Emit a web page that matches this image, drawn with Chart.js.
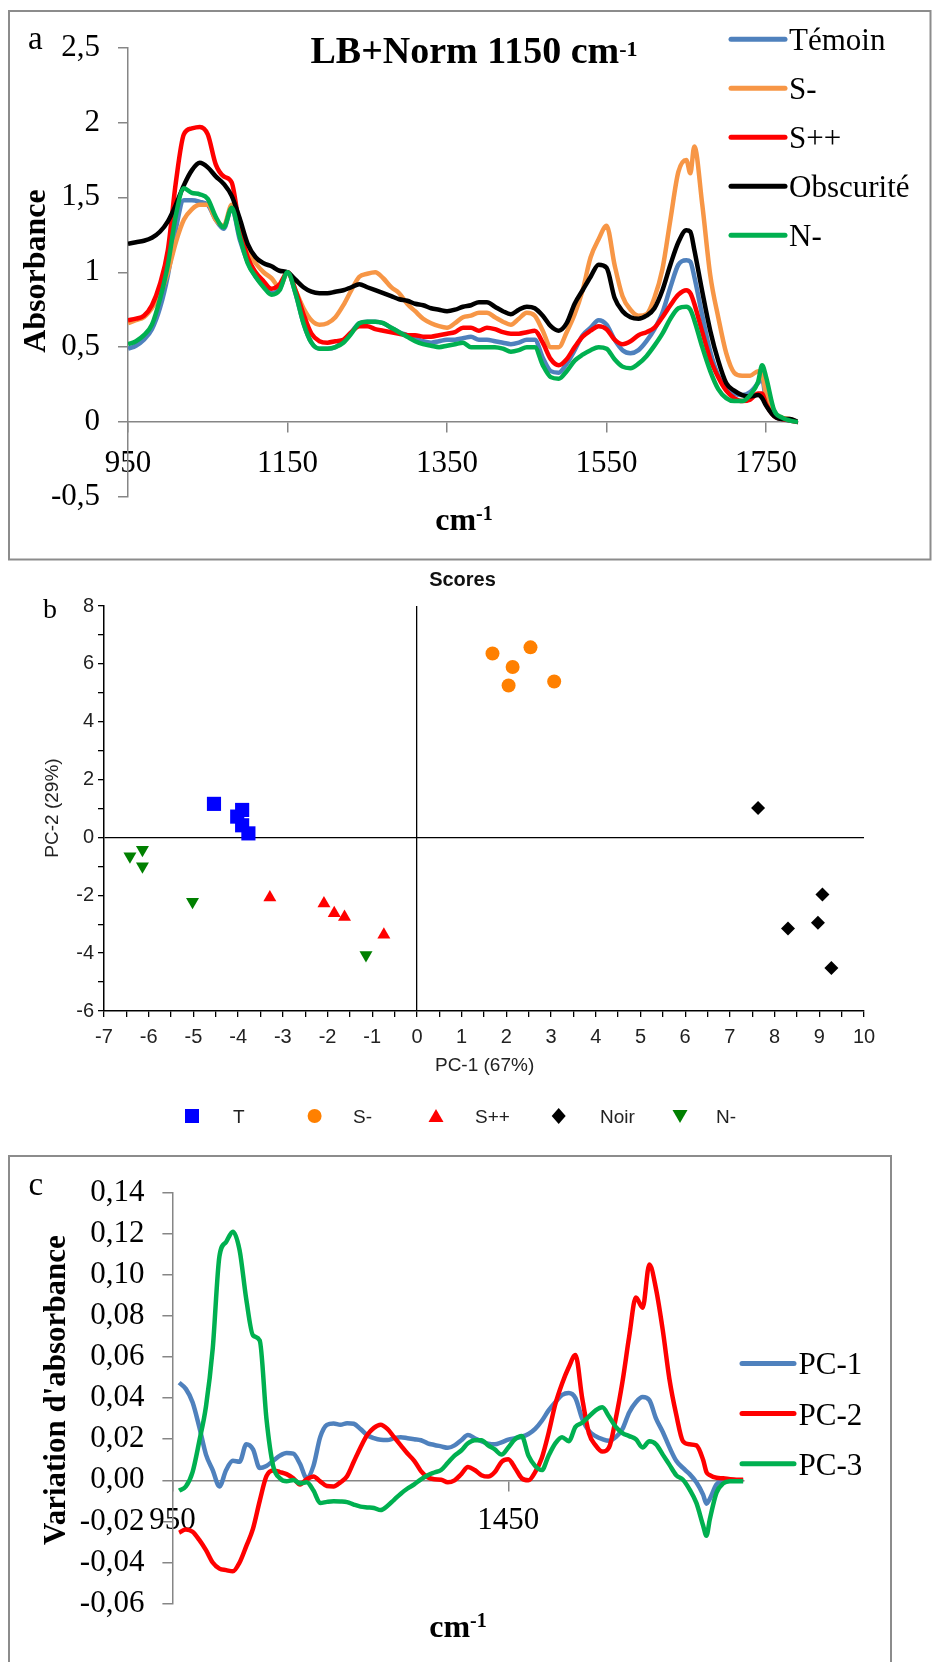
<!DOCTYPE html>
<html>
<head>
<meta charset="utf-8">
<script src="https://cdn.jsdelivr.net/npm/chart.js"></script>
<style>
  body { margin: 0; background: #fff; }
  #page { position: relative; width: 932px; height: 1662px; overflow: hidden; background: #fff; }
  .wrap { position: absolute; left: 0; }
  #overlay { position: absolute; left: 0; top: 0; pointer-events: none; }
  .serif { font-family: 'Liberation Serif', 'Times New Roman', serif; }
  .sans { font-family: 'Liberation Sans', Arial, sans-serif; }
</style>
</head>
<body>
<div id="page">
  <div class="wrap" style="top:0;width:932px;height:560px"><canvas id="chartA" width="932" height="560"></canvas></div>
  <div class="wrap" style="top:590px;width:932px;height:470px"><canvas id="chartB" width="932" height="470"></canvas></div>
  <div class="wrap" style="top:1156px;width:932px;height:506px"><canvas id="chartC" width="932" height="506"></canvas></div>

  <svg id="overlay" width="932" height="1662">
    <!-- panel a -->
    <rect x="9" y="11" width="921.5" height="548.5" fill="none" stroke="#8c8c8c" stroke-width="2"/>
    <text class="serif" x="28" y="48.5" font-size="33">a</text>
    <text class="serif" x="474" y="63" font-size="38" font-weight="bold" text-anchor="middle">LB+Norm 1150 cm<tspan font-size="22" dy="-7">-1</tspan></text>
    <text class="serif" transform="translate(45,271) rotate(-90)" font-size="32" font-weight="bold" text-anchor="middle">Absorbance</text>
    <text class="serif" x="464" y="530" font-size="32" font-weight="bold" text-anchor="middle">cm<tspan font-size="20" dy="-10">-1</tspan></text>
    <g id="legendA"></g>

    <!-- panel b -->
    <text class="serif" x="43" y="618" font-size="28">b</text>
    <text class="sans" x="462.5" y="586" font-size="20" font-weight="bold" text-anchor="middle" fill="#111">Scores</text>
    <text class="sans" x="484.6" y="1071" font-size="19" text-anchor="middle" fill="#222">PC-1 (67%)</text>
    <text class="sans" transform="translate(58,808) rotate(-90)" font-size="19" text-anchor="middle" fill="#222">PC-2 (29%)</text>
    <g id="legendB"></g>

    <!-- panel c -->
    <rect x="9" y="1156" width="882" height="600" fill="none" stroke="#8c8c8c" stroke-width="2"/>
    <text class="serif" x="28.5" y="1195" font-size="33">c</text>
    <text class="serif" transform="translate(65,1390) rotate(-90)" font-size="31" font-weight="bold" text-anchor="middle">Variation d'absorbance</text>
    <text class="serif" x="458" y="1637" font-size="32" font-weight="bold" text-anchor="middle">cm<tspan font-size="20" dy="-10">-1</tspan></text>
    <g id="legendC"></g>
  </svg>
</div>

<script>
// ---- panel a : spectra (LB + normalisation at 1150 cm-1) ----
const wavenumbersA = [
  950, 960, 970, 980, 990, 1000, 1010, 1020, 1030, 1040,
  1050, 1060, 1070, 1080, 1090, 1100, 1110, 1120, 1130, 1140,
  1150, 1160, 1170, 1180, 1190, 1200, 1210, 1220, 1230, 1240,
  1250, 1260, 1270, 1280, 1290, 1300, 1310, 1320, 1330, 1340,
  1350, 1360, 1370, 1380, 1390, 1400, 1410, 1420, 1430, 1440,
  1450, 1460, 1470, 1480, 1490, 1500, 1510, 1520, 1530, 1540,
  1550, 1560, 1570, 1580, 1590, 1600, 1610, 1620, 1630, 1640,
  1650, 1655, 1660, 1670, 1680, 1690, 1700, 1710, 1720, 1730,
  1740, 1745, 1750, 1760, 1770, 1780, 1790
];
const temoin = [
  0.49, 0.51, 0.55, 0.62, 0.76, 0.98, 1.29, 1.48, 1.48, 1.47,
  1.45, 1.35, 1.29, 1.43, 1.22, 1.07, 0.97, 0.91, 0.86, 0.89,
  1.00, 0.86, 0.66, 0.53, 0.49, 0.49, 0.50, 0.54, 0.60, 0.66,
  0.67, 0.67, 0.66, 0.63, 0.60, 0.58, 0.56, 0.54, 0.53, 0.54,
  0.55, 0.55, 0.56, 0.57, 0.55, 0.55, 0.54, 0.53, 0.52, 0.53,
  0.55, 0.55, 0.43, 0.34, 0.33, 0.39, 0.48, 0.58, 0.63, 0.68,
  0.65, 0.55, 0.48, 0.46, 0.48, 0.54, 0.62, 0.73, 0.90, 1.05,
  1.08, 1.07, 0.97, 0.71, 0.47, 0.31, 0.22, 0.19, 0.18, 0.20,
  0.26, 0.29, 0.14, 0.05, 0.02, 0.01, 0.00
];
const sMinus = [
  0.66, 0.68, 0.70, 0.76, 0.85, 1.00, 1.20, 1.35, 1.42, 1.45,
  1.45, 1.35, 1.31, 1.45, 1.34, 1.14, 1.06, 1.00, 0.96, 0.90,
  1.00, 0.88, 0.76, 0.68, 0.65, 0.66, 0.70, 0.78, 0.88, 0.97,
  0.99, 1.00, 0.96, 0.90, 0.86, 0.79, 0.74, 0.69, 0.66, 0.64,
  0.63, 0.66, 0.70, 0.71, 0.73, 0.73, 0.70, 0.67, 0.65, 0.69,
  0.73, 0.71, 0.61, 0.50, 0.50, 0.60, 0.72, 0.88, 1.10, 1.22,
  1.31, 1.05, 0.84, 0.75, 0.71, 0.72, 0.83, 1.02, 1.35, 1.67,
  1.75, 1.66, 1.84, 1.45, 0.98, 0.70, 0.46, 0.33, 0.31, 0.31,
  0.34, 0.32, 0.18, 0.06, 0.03, 0.02, 0.00
];
const sPlusPlus = [
  0.68, 0.69, 0.71, 0.78, 0.92, 1.15, 1.60, 1.92, 1.96, 1.97,
  1.92, 1.72, 1.64, 1.60, 1.30, 1.10, 1.00, 0.94, 0.89, 0.92,
  1.00, 0.88, 0.72, 0.59, 0.54, 0.53, 0.54, 0.55, 0.60, 0.64,
  0.64, 0.62, 0.61, 0.60, 0.59, 0.58, 0.58, 0.57, 0.57, 0.58,
  0.59, 0.60, 0.63, 0.63, 0.61, 0.63, 0.62, 0.60, 0.59, 0.59,
  0.60, 0.61, 0.53, 0.42, 0.38, 0.42, 0.50, 0.57, 0.61, 0.64,
  0.62, 0.55, 0.52, 0.54, 0.58, 0.60, 0.63, 0.70, 0.78, 0.85,
  0.88, 0.86, 0.79, 0.60, 0.42, 0.30, 0.21, 0.16, 0.14, 0.15,
  0.19, 0.19, 0.12, 0.04, 0.02, 0.01, 0.00
];
const obscurite = [
  1.19, 1.20, 1.21, 1.23, 1.27, 1.34, 1.45, 1.58, 1.68, 1.73,
  1.70, 1.64, 1.59, 1.51, 1.36, 1.19, 1.10, 1.06, 1.04, 1.01,
  1.00, 0.95, 0.90, 0.87, 0.86, 0.86, 0.87, 0.88, 0.90, 0.92,
  0.90, 0.88, 0.86, 0.84, 0.82, 0.81, 0.79, 0.78, 0.76, 0.75,
  0.74, 0.75, 0.77, 0.78, 0.80, 0.80, 0.77, 0.74, 0.72, 0.75,
  0.77, 0.76, 0.71, 0.64, 0.61, 0.66, 0.79, 0.88, 0.97, 1.05,
  1.03, 0.83, 0.74, 0.70, 0.69, 0.71, 0.76, 0.88, 1.05, 1.20,
  1.28, 1.27, 1.15, 0.87, 0.61, 0.41, 0.26, 0.21, 0.18, 0.17,
  0.18, 0.16, 0.11, 0.04, 0.02, 0.02, 0.00
];
const nMinus = [
  0.52, 0.54, 0.58, 0.65, 0.82, 1.05, 1.38, 1.56, 1.53, 1.52,
  1.49, 1.37, 1.30, 1.43, 1.24, 1.06, 0.97, 0.90, 0.85, 0.88,
  1.00, 0.86, 0.66, 0.53, 0.49, 0.49, 0.50, 0.53, 0.59, 0.66,
  0.67, 0.67, 0.66, 0.63, 0.60, 0.57, 0.54, 0.52, 0.51, 0.50,
  0.51, 0.52, 0.53, 0.50, 0.50, 0.50, 0.50, 0.49, 0.47, 0.48,
  0.50, 0.50, 0.38, 0.30, 0.29, 0.34, 0.41, 0.45, 0.48, 0.50,
  0.49, 0.42, 0.37, 0.36, 0.39, 0.44, 0.51, 0.59, 0.69, 0.76,
  0.77, 0.75, 0.68, 0.50, 0.34, 0.22, 0.16, 0.14, 0.14, 0.18,
  0.27, 0.38, 0.30, 0.08, 0.03, 0.01, 0.00
];
const xTicksA = [950, 1150, 1350, 1550, 1750];

// ---- panel b : PCA scores ----
const scoresT_pc1 = [-4.54, -3.91, -4.02, -3.91, -3.77];
const scoresT_pc2 = [1.16, 0.95, 0.72, 0.42, 0.14];
const scoresSm_pc1 = [1.69, 2.54, 2.14, 2.05, 3.07];
const scoresSm_pc2 = [6.36, 6.57, 5.89, 5.25, 5.39];
const scoresSpp_pc1 = [-3.29, -2.08, -1.85, -1.62, -0.74];
const scoresSpp_pc2 = [-2.08, -2.28, -2.62, -2.75, -3.36];
const scoresNoir_pc1 = [7.63, 9.07, 8.30, 8.97, 9.27];
const scoresNoir_pc2 = [1.02, -1.97, -3.15, -2.95, -4.51];
const scoresNm_pc1 = [-6.42, -6.14, -6.14, -5.02, -1.14];
const scoresNm_pc2 = [-0.65, -0.43, -1.00, -2.22, -4.06];

// ---- panel c : loadings ----
const wavenumbersC = [
  960, 970, 980, 990, 1000, 1010, 1020, 1030, 1040, 1050,
  1060, 1070, 1080, 1090, 1100, 1110, 1120, 1130, 1140, 1150,
  1160, 1170, 1180, 1190, 1200, 1210, 1220, 1230, 1240, 1250,
  1260, 1270, 1280, 1290, 1300, 1310, 1320, 1330, 1340, 1350,
  1360, 1370, 1380, 1390, 1400, 1410, 1420, 1430, 1440, 1450,
  1460, 1470, 1480, 1490, 1500, 1510, 1520, 1530, 1540, 1550,
  1560, 1570, 1580, 1590, 1600, 1610, 1620, 1630, 1640, 1650,
  1660, 1670, 1680, 1690, 1700, 1710, 1720, 1730, 1740,
  1745, 1750, 1760, 1770, 1780, 1790, 1800
];
const pc1 = [
  0.0475, 0.0445, 0.038, 0.026, 0.0125, 0.005, -0.003, 0.005, 0.0095, 0.009,
  0.0175, 0.015, 0.006, 0.007, 0.0095, 0.012, 0.0133, 0.013, 0.008, 0.001,
  0.007, 0.021, 0.027, 0.0277, 0.027, 0.0278, 0.0275, 0.025, 0.022, 0.0205,
  0.0197, 0.0196, 0.0205, 0.021, 0.0205, 0.020, 0.0195, 0.018, 0.0172, 0.0165,
  0.0158, 0.017, 0.0195, 0.022, 0.0205, 0.019, 0.0178, 0.0175, 0.0185, 0.0198,
  0.0205, 0.0212, 0.0225, 0.025, 0.029, 0.034, 0.038, 0.0415, 0.0425, 0.040,
  0.030, 0.024, 0.0215, 0.020, 0.0192, 0.021, 0.025, 0.033, 0.038, 0.0405,
  0.039, 0.030, 0.0235, 0.016, 0.0095, 0.006, 0.003, -0.001, -0.007,
  -0.0114, -0.009, -0.002, 0.0, 0.0003, 0.0, 0.0
];
const pc2 = [
  -0.0255, -0.024, -0.025, -0.029, -0.034, -0.040, -0.043, -0.0437, -0.0443, -0.040,
  -0.032, -0.0235, -0.010, 0.002, 0.0048, 0.004, 0.003, 0.001, -0.002, 0.0005,
  0.0019, -0.0005, -0.0028, -0.003, -0.001, 0.002, 0.009, 0.016, 0.022, 0.0255,
  0.027, 0.025, 0.021, 0.017, 0.013, 0.0095, 0.0045, 0.0015, 0.0005, 0.0003,
  -0.001, 0.0, 0.003, 0.0065, 0.005, 0.0025, 0.0018, 0.004, 0.009, 0.0102,
  0.006, 0.001, 0.0, 0.004, 0.011, 0.023, 0.037, 0.047, 0.055, 0.061,
  0.040, 0.023, 0.017, 0.014, 0.016, 0.030, 0.048, 0.070, 0.089, 0.084,
  0.105, 0.093, 0.073, 0.049, 0.032, 0.019, 0.0175, 0.017, 0.010,
  0.004, 0.0025, 0.0012, 0.001, 0.0005, 0.0003, 0.0003
];
const pc3 = [
  -0.005, -0.003, 0.004, 0.019, 0.036, 0.064, 0.109, 0.116, 0.121, 0.112,
  0.088, 0.0705, 0.068, 0.030, 0.007, 0.001, -0.0005, 0.0002, -0.0015, -0.001,
  -0.005, -0.011, -0.0105, -0.0102, -0.0103, -0.0106, -0.0118, -0.0128, -0.0132, -0.0135,
  -0.0145, -0.0125, -0.0095, -0.0065, -0.004, -0.002, 0.0005, 0.0025, 0.0038, 0.005,
  0.0085, 0.012, 0.0145, 0.018, 0.0195, 0.0195, 0.017, 0.015, 0.0125, 0.016,
  0.020, 0.0215, 0.012, 0.007, 0.005, 0.012, 0.018, 0.021, 0.019, 0.026,
  0.028, 0.031, 0.034, 0.0355, 0.031, 0.026, 0.023, 0.0215, 0.020, 0.016,
  0.019, 0.0175, 0.0125, 0.0075, 0.0025, 0.0003, -0.0045, -0.011, -0.022,
  -0.027, -0.019, -0.006, -0.0015, -0.0005, -0.0005, -0.0005
];
const xTicksC = [950, 1450];

// ---------------------------------------------------------------
const SERIF = 'Liberation Serif';
const SANS = 'Liberation Sans';
const AXIS_GREY = '#868686';

function toPoints(xs, ys) {
  return xs.map((x, i) => ({ x: x, y: ys[i] }));
}

function commaLabel(decimals) {
  return v => (decimals == null ? String(v) : Number(v).toFixed(decimals)).replace('.', ',');
}

// line chart used for panels a and c
function spectraChart(id, xs, series, opt) {
  return new Chart(document.getElementById(id), {
    type: 'line',
    data: {
      datasets: series.map((s, i) => ({
        label: s.label,
        data: toPoints(xs, s.values),
        borderColor: s.color,
        borderWidth: 4.5,
        pointRadius: 0,
        fill: false,
        cubicInterpolationMode: 'monotone',
        order: series.length - i
      }))
    },
    options: {
      responsive: false,
      animation: false,
      layout: { padding: opt.padding },
      plugins: { legend: { display: false }, tooltip: { enabled: false } },
      scales: {
        x: {
          type: 'linear',
          min: opt.xMin,
          max: opt.xMax,
          position: { y: 0 },
          afterBuildTicks: s => { s.ticks = opt.xTicks.map(v => ({ value: v })); },
          grid: { drawOnChartArea: false, tickLength: 10, color: AXIS_GREY, lineWidth: 1.5 },
          border: { color: AXIS_GREY, width: 1.5 },
          ticks: {
            font: { family: SERIF, size: 31 },
            color: '#000',
            padding: opt.xPad,
            maxRotation: 0,
            autoSkip: false,
            callback: v => String(v)
          }
        },
        y: {
          min: opt.yMin,
          max: opt.yMax,
          afterFit: s => { s.width = opt.yWidth; },
          grid: { drawOnChartArea: false, tickLength: 10, color: AXIS_GREY, lineWidth: 1.5 },
          border: { color: AXIS_GREY, width: 1.5 },
          ticks: {
            stepSize: opt.yStep,
            font: { family: SERIF, size: 31 },
            color: '#000',
            padding: 18,
            callback: commaLabel(opt.yDecimals)
          }
        }
      }
    }
  });
}

const seriesA = [
  { label: 'Témoin', values: temoin, color: '#4f81bd' },
  { label: 'S-', values: sMinus, color: '#f79646' },
  { label: 'S++', values: sPlusPlus, color: '#ff0000' },
  { label: 'Obscurité', values: obscurite, color: '#000000' },
  { label: 'N-', values: nMinus, color: '#00b050' }
];
spectraChart('chartA', wavenumbersA, seriesA, {
  padding: { left: 0, top: 47.5, right: 134, bottom: 63 },
  xMin: 950, xMax: 1790, xTicks: xTicksA, xPad: 13,
  yMin: -0.5, yMax: 2.5, yStep: 0.5, yWidth: 128, yDecimals: null
});

const seriesC = [
  { label: 'PC-1', values: pc1, color: '#4f81bd' },
  { label: 'PC-2', values: pc2, color: '#ff0000' },
  { label: 'PC-3', values: pc3, color: '#00b050' }
];
spectraChart('chartC', wavenumbersC, seriesC, {
  padding: { left: 0, top: 21, right: 188.6, bottom: 58.4 },
  xMin: 950, xMax: 1800, xTicks: xTicksC, xPad: 12,
  yMin: -0.06, yMax: 0.14, yStep: 0.02, yWidth: 172.4, yDecimals: 2
});

// scores plot
const groupsB = [
  { label: 'T', xs: scoresT_pc1, ys: scoresT_pc2, color: '#0000ff', style: 'rect', radius: 10, rotation: 0 },
  { label: 'S-', xs: scoresSm_pc1, ys: scoresSm_pc2, color: '#ff8000', style: 'circle', radius: 7, rotation: 0 },
  { label: 'S++', xs: scoresSpp_pc1, ys: scoresSpp_pc2, color: '#ff0000', style: 'triangle', radius: 7.5, rotation: 0 },
  { label: 'Noir', xs: scoresNoir_pc1, ys: scoresNoir_pc2, color: '#000000', style: 'rectRot', radius: 7, rotation: 0 },
  { label: 'N-', xs: scoresNm_pc1, ys: scoresNm_pc2, color: '#008000', style: 'triangle', radius: 7.5, rotation: 180 }
];

const zeroLine = ctx => (ctx.tick && Math.abs(ctx.tick.value) < 1e-9) ? '#000' : 'rgba(0,0,0,0)';

new Chart(document.getElementById('chartB'), {
  type: 'scatter',
  data: {
    datasets: groupsB.map(g => ({
      label: g.label,
      data: toPoints(g.xs, g.ys),
      pointStyle: g.style,
      pointRadius: g.radius,
      pointRotation: g.rotation,
      backgroundColor: g.color,
      borderColor: g.color,
      borderWidth: 0
    }))
  },
  options: {
    responsive: false,
    animation: false,
    layout: { padding: { left: 0, top: 10.6, right: 68, bottom: 0 } },
    plugins: { legend: { display: false }, tooltip: { enabled: false } },
    scales: {
      x: {
        type: 'linear',
        min: -7,
        max: 10,
        afterFit: s => { s.height = 49; },
        grid: { color: zeroLine, tickColor: '#000', tickLength: 6, lineWidth: 1.3 },
        border: { color: '#000', width: 1.5 },
        ticks: {
          stepSize: 0.5,
          font: { family: SANS, size: 20 },
          color: '#222',
          padding: 8,
          maxRotation: 0,
          autoSkip: false,
          callback: v => Number.isInteger(v) ? String(v) : ''
        }
      },
      y: {
        min: -6,
        max: 8,
        afterFit: s => { s.width = 104; },
        grid: { color: zeroLine, tickColor: '#000', tickLength: 6, lineWidth: 1.3 },
        border: { color: '#000', width: 1.5 },
        ticks: {
          stepSize: 1,
          font: { family: SANS, size: 20 },
          color: '#222',
          padding: 4,
          autoSkip: false,
          callback: v => (v % 2 === 0) ? String(v) : ''
        }
      }
    }
  }
});

// ---- legends (svg, real text) ----
const NS = 'http://www.w3.org/2000/svg';
function svgEl(parent, tag, attrs, text) {
  const el = document.createElementNS(NS, tag);
  for (const k in attrs) el.setAttribute(k, attrs[k]);
  if (text != null) el.textContent = text;
  parent.appendChild(el);
  return el;
}

function lineLegend(groupId, series, x1, x2, textX, y0, step) {
  const g = document.getElementById(groupId);
  series.forEach((s, i) => {
    const y = y0 + i * step;
    svgEl(g, 'line', { x1: x1, y1: y, x2: x2, y2: y, stroke: s.color, 'stroke-width': 5, 'stroke-linecap': 'round' });
    svgEl(g, 'text', { x: textX, y: y + 11, 'font-size': 31, class: 'serif' }, s.label);
  });
}
lineLegend('legendA', seriesA, 731, 785, 789, 39.3, 49);
lineLegend('legendC', seriesC, 742, 794, 798.5, 1363.4, 50.2);

// scores legend row
(function () {
  const g = document.getElementById('legendB');
  const markerX = [192, 314.6, 436, 558.7, 680];
  const textX = [233, 353, 475, 600, 716];
  const y = 1116;
  groupsB.forEach((grp, i) => {
    const cx = markerX[i];
    if (grp.style === 'rect') {
      svgEl(g, 'rect', { x: cx - 7, y: y - 7, width: 14, height: 14, fill: grp.color });
    } else if (grp.style === 'circle') {
      svgEl(g, 'circle', { cx: cx, cy: y, r: 7, fill: grp.color });
    } else if (grp.style === 'rectRot') {
      svgEl(g, 'polygon', { points: `${cx - 7},${y} ${cx},${y - 8} ${cx + 7},${y} ${cx},${y + 8}`, fill: grp.color });
    } else if (grp.rotation === 180) {
      svgEl(g, 'polygon', { points: `${cx - 7.5},${y - 6} ${cx + 7.5},${y - 6} ${cx},${y + 7}`, fill: grp.color });
    } else {
      svgEl(g, 'polygon', { points: `${cx - 7.5},${y + 6} ${cx + 7.5},${y + 6} ${cx},${y - 7}`, fill: grp.color });
    }
    svgEl(g, 'text', { x: textX[i], y: y + 7, 'font-size': 19, class: 'sans', fill: '#222' }, grp.label);
  });
})();
</script>
</body>
</html>
